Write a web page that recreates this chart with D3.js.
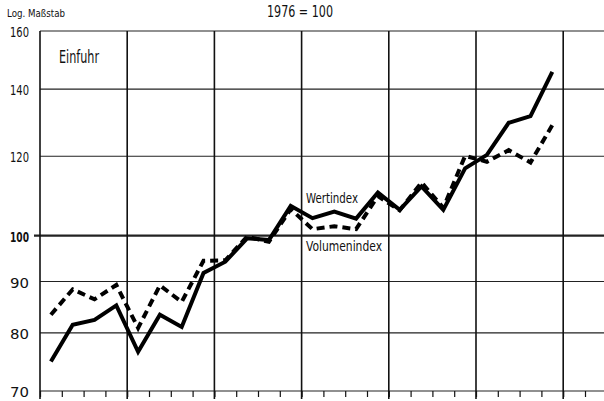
<!DOCTYPE html>
<html>
<head>
<meta charset="utf-8">
<script src="https://cdn.jsdelivr.net/npm/d3@7"></script>
<style>
  body { margin: 0; background: #fff; }
  text { font-family: "DejaVu Sans Condensed", "Liberation Sans Narrow", sans-serif; fill: #111; }
</style>
</head>
<body>
<div id="chart"></div>
<script>
// quarterly values 1976 Q1 .. 1981 Q4, 1976 = 100, log scale
var years = [1976, 1977, 1978, 1979, 1980, 1981];
var wertindex = [74.9, 81.5, 82.4, 85.2, 76.6, 83.4, 81.1, 91.8,
                 94.2, 99.4, 99.0, 107.1, 104.1, 105.7, 104.0, 110.4,
                 106.1, 112.0, 106.1, 116.7, 120.4, 129.6, 131.6, 145.7];
var volumenindex = [83.4, 88.4, 86.4, 89.3, 80.9, 89.2, 85.9, 94.4,
                    94.5, 99.8, 98.6, 106.3, 101.5, 102.2, 101.5, 109.5,
                    106.0, 113.0, 106.6, 120.1, 118.5, 121.7, 118.3, 128.9];
var yTicks = [70, 80, 90, 100, 120, 140, 160];

var width = 604, height = 401;

var svg = d3.select("#chart").append("svg")
    .attr("width", width)
    .attr("height", height);

var x = d3.scaleLinear().domain([0, years.length * 4]).range([40, 563.2]);
var y = d3.scaleLog().domain([70, 160]).range([391, 31]);

// horizontal grid
svg.selectAll("line.hgrid")
    .data(yTicks)
    .enter().append("line")
    .attr("class", "hgrid")
    .attr("x1", function (d) { return d == 100 ? 34 : x(0); })
    .attr("x2", width)
    .attr("y1", function (d) { return y(d); })
    .attr("y2", function (d) { return y(d); })
    .attr("stroke", "#222")
    .attr("stroke-width", function (d) { return d == 100 ? 2.2 : 1.1; });

// vertical year lines
svg.selectAll("line.vgrid")
    .data(d3.range(years.length + 1))
    .enter().append("line")
    .attr("class", "vgrid")
    .attr("x1", function (d) { return x(d * 4); })
    .attr("x2", function (d) { return x(d * 4); })
    .attr("y1", y(160))
    .attr("y2", 399)
    .attr("stroke", "#111")
    .attr("stroke-width", 1.6);

// quarter ticks
svg.append("g")
    .attr("transform", "translate(0," + y(70) + ")")
    .call(d3.axisBottom(x).tickValues(d3.range(0, 26)).tickSize(6).tickFormat(""))
    .call(function (g) {
        g.select(".domain").remove();
        g.selectAll(".tick line").attr("stroke", "#111").attr("stroke-width", 1.2);
    });

// y axis labels
svg.append("g")
    .attr("transform", "translate(29,0)")
    .call(d3.axisLeft(y).tickValues(yTicks).tickSize(0).tickPadding(0).tickFormat(d3.format("d")))
    .call(function (g) {
        g.select(".domain").remove();
        g.selectAll(".tick text")
            .attr("dy", "0.4em")
            .attr("textLength", 19)
            .attr("lengthAdjust", "spacingAndGlyphs")
            .style("font-size", "14px")
            .style("font-family", "'DejaVu Sans Condensed', 'Liberation Sans Narrow', sans-serif")
            .attr("fill", "#111")
            .attr("font-weight", function (d) { return d == 100 ? "bold" : "normal"; });
    });

var line = d3.line()
    .x(function (d, i) { return x(i + 0.5); })
    .y(function (d) { return y(d); });

svg.append("path")
    .datum(volumenindex)
    .attr("fill", "none")
    .attr("stroke", "#000")
    .attr("stroke-width", 4)
    .attr("stroke-dasharray", "8,5")
    .attr("d", line);

svg.append("path")
    .datum(wertindex)
    .attr("fill", "none")
    .attr("stroke", "#000")
    .attr("stroke-width", 4)
    .attr("stroke-linejoin", "miter")
    .attr("d", line);

// texts
function label(tx, ty, size, len, str) {
    svg.append("text").attr("x", tx).attr("y", ty)
        .attr("textLength", len).attr("lengthAdjust", "spacingAndGlyphs")
        .style("font-size", size + "px").text(str);
}
label(7, 17, 11, 58, "Log. Maßstab");
label(267, 17, 15, 66, "1976 = 100");
label(59, 63, 17, 40, "Einfuhr");
label(306, 203, 14, 52, "Wertindex");
label(306, 251, 14, 76, "Volumenindex");
</script>
</body>
</html>
